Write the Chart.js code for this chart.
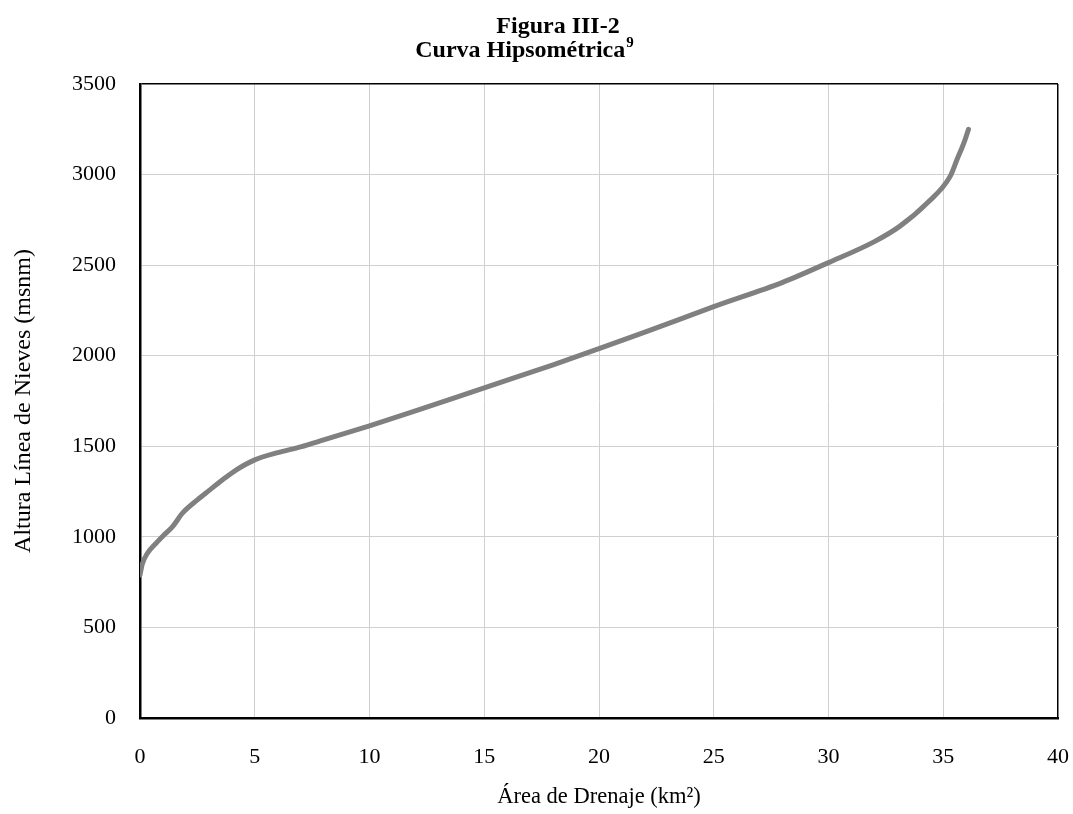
<!DOCTYPE html>
<html>
<head>
<meta charset="utf-8">
<script src="https://cdn.jsdelivr.net/npm/chart.js@4"></script>
<style>
  html, body { margin: 0; padding: 0; background: #fff; }
  #wrap { width: 1073px; height: 814px; }
</style>
</head>
<body>
<div id="wrap"><canvas id="c" width="1073" height="814"></canvas></div>
<script>
// Hypsometric curve: cumulative drainage area (km²) vs. snow-line altitude (m a.s.l.)
const areaKm2 = [0, 0.1, 0.33, 0.7, 1.05, 1.42, 1.86, 2.5, 3.0, 3.6, 4.2, 5, 6, 7, 8, 10, 12, 15, 18, 20, 22, 25, 28, 30, 32, 33.1, 34.3, 35.3, 35.6, 35.9, 36.1];
const alturaMsnm = [790, 850, 911, 965, 1011, 1057, 1132, 1204, 1255, 1315, 1370, 1425, 1465, 1497, 1535, 1613, 1695, 1823, 1950, 2039, 2130, 2271, 2405, 2514, 2630, 2714, 2843, 2990, 3083, 3175, 3250];

const titleLine1 = 'Figura III-2';
const titleLine2 = 'Curva Hipsométrica';
const titleNote = '9';
const xTitle = 'Área de Drenaje (km²)';
const yTitle = 'Altura Línea de Nieves (msnm)';

const xMax = 40, xStep = 5;
const yMax = 3500, yStep = 500;

const serif = "'Liberation Serif', 'Times New Roman', serif";

// Two-line bold heading with a superscript note marker
const headingPlugin = {
  id: 'heading',
  afterDraw(chart) {
    const ctx = chart.ctx;
    ctx.save();
    ctx.fillStyle = '#000';
    ctx.textBaseline = 'alphabetic';
    ctx.font = 'bold 24px ' + serif;
    ctx.textAlign = 'center';
    ctx.fillText(titleLine1, 558, 33);
    const wMain = ctx.measureText(titleLine2).width;
    ctx.font = 'bold 15px ' + serif;
    const wSup = ctx.measureText(titleNote).width;
    const start = 524 - (wMain + wSup) / 2;
    ctx.textAlign = 'left';
    ctx.font = 'bold 24px ' + serif;
    ctx.fillText(titleLine2, start, 57);
    ctx.font = 'bold 15px ' + serif;
    ctx.fillText(titleNote, start + wMain + 1, 47);
    ctx.restore();
  }
};

const points = areaKm2.map((x, i) => ({ x: x, y: alturaMsnm[i] }));
const plainNumber = (v) => String(v);

new Chart(document.getElementById('c'), {
  type: 'scatter',
  data: {
    datasets: [{
      data: points,
      showLine: true,
      borderColor: '#808080',
      borderWidth: 5,
      borderCapStyle: 'round',
      borderJoinStyle: 'round',
      pointRadius: 0,
      pointHoverRadius: 0,
      cubicInterpolationMode: 'monotone'
    }]
  },
  options: {
    responsive: false,
    animation: false,
    events: [],
    layout: { padding: { top: 84, right: 0, bottom: 0, left: 0 } },
    plugins: {
      legend: { display: false },
      title: { display: false },
      tooltip: { enabled: false }
    },
    scales: {
      x: {
        type: 'linear',
        min: 0, max: xMax,
        afterFit(scale) {
          scale.height = 96;
          scale.paddingLeft = 0;
          scale.paddingRight = 15;
        },
        ticks: {
          stepSize: xStep,
          padding: 26,
          color: '#000',
          font: { family: serif, size: 22 },
          callback: plainNumber
        },
        grid: {
          drawTicks: false,
          color: (c) => c.tick && c.tick.value === xMax ? '#000' : '#d0d0d0',
          lineWidth: (c) => c.tick && c.tick.value === xMax ? 1.5 : 1
        },
        border: { color: '#000', width: 2.5 },
        title: {
          display: true,
          text: xTitle,
          color: '#000',
          font: { family: serif, size: 22.5 },
          padding: { top: 0, bottom: 3 }
        }
      },
      y: {
        type: 'linear',
        min: 0, max: yMax,
        afterFit(scale) { scale.width = 140; },
        ticks: {
          stepSize: yStep,
          padding: 24,
          color: '#000',
          font: { family: serif, size: 22 },
          callback: plainNumber
        },
        grid: {
          drawTicks: false,
          color: (c) => c.tick && c.tick.value === yMax ? '#000' : '#d0d0d0',
          lineWidth: (c) => c.tick && c.tick.value === yMax ? 1.5 : 1
        },
        border: { color: '#000', width: 2.5 },
        title: {
          display: true,
          text: yTitle,
          color: '#000',
          font: { family: serif, size: 24 },
          padding: { top: 9, bottom: 0 }
        }
      }
    }
  },
  plugins: [headingPlugin]
});
</script>
</body>
</html>
